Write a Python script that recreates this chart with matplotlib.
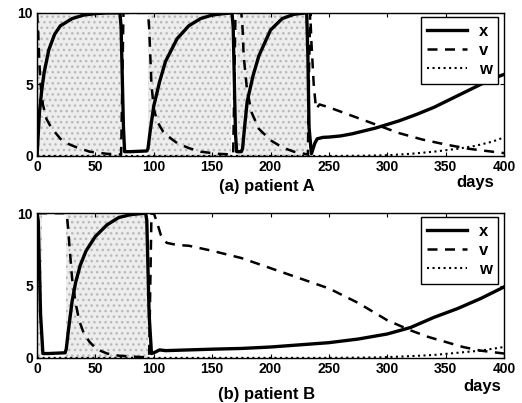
import matplotlib
matplotlib.use("Agg")
import matplotlib.pyplot as plt

plt.rcParams['font.family'] = ['Liberation Sans', 'DejaVu Sans']
plt.rcParams['font.weight'] = 'bold'
plt.rcParams['hatch.color'] = '#b8b8b8'

# patient A
tA_x = [0, 1, 2, 4, 6, 10, 15, 20, 30, 40, 50, 60, 71, 72, 74, 75, 80, 94, 95, 97, 100, 105, 110, 120, 130, 140, 150, 160, 167, 168, 170, 171, 175, 176, 178, 180, 185, 190, 200, 210, 220, 230, 231, 232, 233, 235, 238, 240, 245, 250, 260, 270, 280, 290, 300, 310, 325, 340, 350, 360, 375, 390, 400]
xA = [0, 1.5, 3, 4.6, 5.8, 7.4, 8.5, 9.1, 9.6, 9.85, 9.95, 10, 10, 9, 2, 0.3, 0.3, 0.35, 0.5, 1.8, 3.5, 5.2, 6.6, 8.2, 9.1, 9.6, 9.85, 9.95, 10, 9, 1.5, 0.3, 0.3, 0.5, 2.2, 3.8, 5.6, 7, 8.8, 9.6, 9.9, 10, 10, 7, 2, 0.15, 0.9, 1.2, 1.3, 1.32, 1.4, 1.55, 1.75, 1.95, 2.2, 2.45, 2.9, 3.4, 3.8, 4.2, 4.8, 5.4, 5.7]
tA_v = [0, 1, 2, 3, 5, 8, 12, 15, 20, 25, 34, 45, 60, 72, 73, 74, 95, 96, 97, 98, 100, 103, 108, 115, 120, 130, 140, 155, 168, 169, 170, 175, 176, 177, 180, 184, 190, 200, 210, 220, 232, 233, 234, 235, 237, 239, 242, 250, 270, 290, 310, 330, 350, 370, 390, 400]
vA = [10, 8.5, 6.5, 5, 3.6, 2.6, 2, 1.7, 1.2, 0.9, 0.6, 0.3, 0.15, 0.1, 5, 10, 10, 9, 7, 5, 3.3, 2.4, 1.7, 1.2, 0.9, 0.55, 0.3, 0.15, 0.1, 5, 10, 10, 9, 7, 4.5, 3, 1.9, 1.1, 0.6, 0.3, 0.1, 6, 10, 8, 5, 3.3, 3.6, 3.4, 2.8, 2.2, 1.6, 1.15, 0.8, 0.5, 0.3, 0.2]
tA_w = [0, 232, 250, 280, 300, 320, 340, 360, 375, 390, 400]
wA = [0, 0, 0, 0.02, 0.05, 0.15, 0.3, 0.5, 0.7, 1.0, 1.3]
shadeA = [(0, 72), (95, 166), (171, 232)]

# patient B
tB_x = [0, 1, 3, 5, 10, 24, 25, 27, 30, 33, 37, 42, 50, 60, 70, 80, 93, 94, 96, 98, 100, 105, 110, 130, 150, 175, 200, 225, 250, 275, 300, 320, 340, 360, 380, 400]
xB = [10, 9.5, 3, 0.3, 0.3, 0.35, 0.6, 2, 3.9, 5.2, 6.4, 7.4, 8.4, 9.2, 9.7, 9.9, 10, 9.5, 3, 0.3, 0.35, 0.55, 0.5, 0.55, 0.6, 0.65, 0.75, 0.9, 1.05, 1.3, 1.65, 2.1, 2.8, 3.4, 4.1, 4.9]
tB_v = [0, 25, 26, 28, 30, 33, 36, 40, 45, 51, 60, 70, 90, 96, 97, 98, 100, 103, 106, 111, 120, 130, 150, 175, 200, 225, 250, 275, 300, 320, 335, 350, 365, 380, 400]
vB = [10, 10, 9.5, 7.5, 5.5, 3.8, 2.6, 1.7, 1.1, 0.6, 0.3, 0.15, 0.05, 0.05, 5, 10, 10, 9.3, 8.5, 7.95, 7.8, 7.75, 7.4, 6.9, 6.2, 5.5, 4.8, 3.8, 2.6, 1.9, 1.45, 1.1, 0.75, 0.5, 0.3]
tB_w = [0, 98, 250, 290, 300, 320, 340, 360, 380, 400]
wB = [0, 0, 0, 0.03, 0.05, 0.12, 0.2, 0.35, 0.5, 0.75]
shadeB = [(0, 4), (25, 95)]

xticks = [0, 50, 100, 150, 200, 250, 300, 350, 400]
yticks = [0, 5, 10]

fig = plt.figure(figsize=(5.22, 4.03), dpi=100)
axA = fig.add_axes([0.071, 0.613, 0.8945, 0.355])
axB = fig.add_axes([0.071, 0.112, 0.8945, 0.359])

panels = [
    (axA, tA_x, xA, tA_v, vA, tA_w, wA, shadeA),
    (axB, tB_x, xB, tB_v, vB, tB_w, wB, shadeB),
]
for ax, tx, xs, tv, vs, tw, ws, shade in panels:
    for a, b in shade:
        ax.axvspan(a, b, facecolor='#ededed', hatch='...', linewidth=0, zorder=0)
    ax.plot(tx, xs, 'k-', lw=2.4, label='x')
    ax.plot(tv, vs, 'k--', lw=1.8, dashes=(4, 3), label='v')
    ax.plot(tw, ws, 'k:', lw=1.5, label='w')
    ax.set_xlim(0, 400)
    ax.set_ylim(0, 10)
    ax.set_xticks(xticks)
    ax.set_yticks(yticks)
    ax.tick_params(direction='in', top=True, right=True, labelsize=10,
                   length=3, pad=3)
    for lab in ax.get_xticklabels() + ax.get_yticklabels():
        lab.set_fontweight('bold')
    for s in ax.spines.values():
        s.set_linewidth(1.0)
    leg = ax.legend(loc='upper right', handlelength=2.4, fontsize=12,
                    borderpad=0.4, labelspacing=0.25, handletextpad=0.7,
                    borderaxespad=0, fancybox=False, framealpha=1,
                    edgecolor='black', bbox_to_anchor=(0.988, 0.972))
    leg.get_frame().set_linewidth(1.0)
    for t in leg.get_texts():
        t.set_fontweight('bold')

fig.text(0.511, 0.536, '(a) patient A', ha='center', va='center',
         fontsize=12, fontweight='bold')
fig.text(0.511, 0.022, '(b) patient B', ha='center', va='center',
         fontsize=12, fontweight='bold')
fig.text(0.91, 0.548, 'days', ha='center', va='center',
         fontsize=12, fontweight='bold')
fig.text(0.923, 0.042, 'days', ha='center', va='center',
         fontsize=12, fontweight='bold')

fig.savefig('out.png', dpi=100)
